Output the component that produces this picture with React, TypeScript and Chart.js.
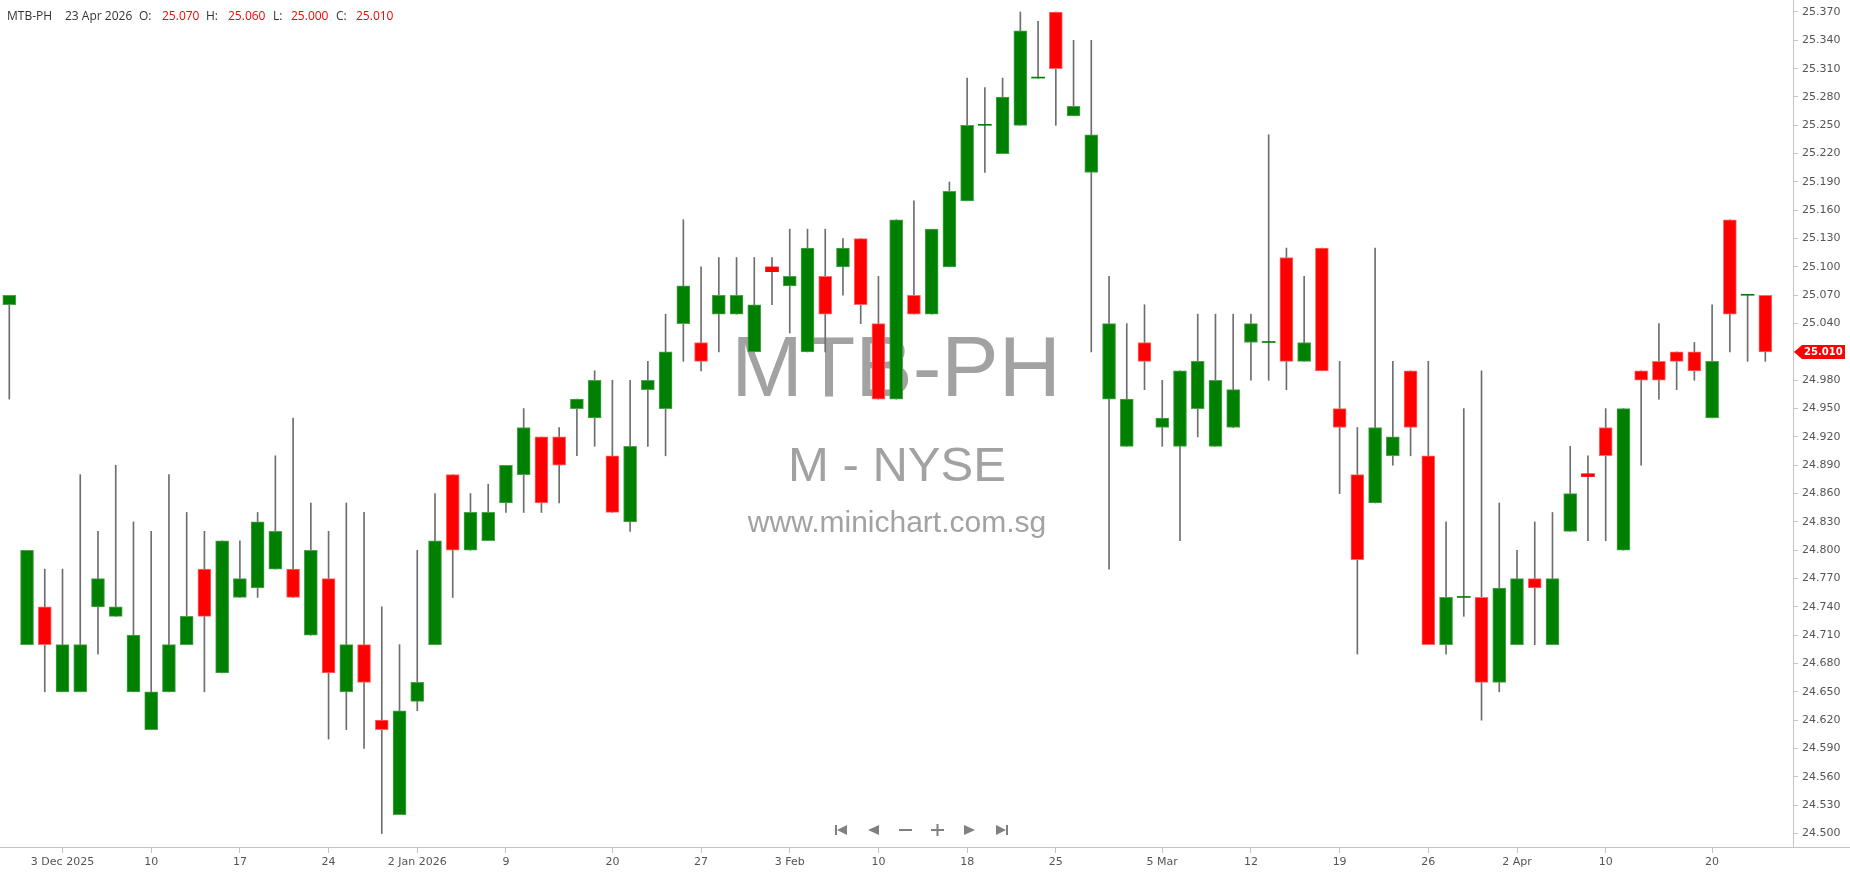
import React, { useEffect, useRef } from 'react';
import { Chart, registerables } from 'chart.js';

Chart.register(...registerables);

const SYMBOL = 'MTB-PH';
const EXCHANGE_TEXT = 'M - NYSE';
const SITE_TEXT = 'www.minichart.com.sg';

const dates: string[] = [
  '2025-11-28',
  '2025-12-01', '2025-12-02', '2025-12-03', '2025-12-04', '2025-12-05',
  '2025-12-08', '2025-12-09', '2025-12-10', '2025-12-11', '2025-12-12',
  '2025-12-15', '2025-12-16', '2025-12-17', '2025-12-18', '2025-12-19',
  '2025-12-22', '2025-12-23', '2025-12-24', '2025-12-26',
  '2025-12-29', '2025-12-30', '2025-12-31',
  '2026-01-02',
  '2026-01-05', '2026-01-06', '2026-01-07', '2026-01-08', '2026-01-09',
  '2026-01-12', '2026-01-13', '2026-01-14', '2026-01-15', '2026-01-16',
  '2026-01-20', '2026-01-21', '2026-01-22', '2026-01-23',
  '2026-01-26', '2026-01-27', '2026-01-28', '2026-01-29', '2026-01-30',
  '2026-02-02', '2026-02-03', '2026-02-04', '2026-02-05', '2026-02-06',
  '2026-02-09', '2026-02-10', '2026-02-11', '2026-02-12', '2026-02-13',
  '2026-02-17', '2026-02-18', '2026-02-19', '2026-02-20',
  '2026-02-23', '2026-02-24', '2026-02-25', '2026-02-26', '2026-02-27',
  '2026-03-02', '2026-03-03', '2026-03-04', '2026-03-05', '2026-03-06',
  '2026-03-09', '2026-03-10', '2026-03-11', '2026-03-12', '2026-03-13',
  '2026-03-16', '2026-03-17', '2026-03-18', '2026-03-19', '2026-03-20',
  '2026-03-23', '2026-03-24', '2026-03-25', '2026-03-26', '2026-03-27',
  '2026-03-30', '2026-03-31',
  '2026-04-01', '2026-04-02',
  '2026-04-06', '2026-04-07', '2026-04-08', '2026-04-09', '2026-04-10',
  '2026-04-13', '2026-04-14', '2026-04-15', '2026-04-16', '2026-04-17',
  '2026-04-20', '2026-04-21', '2026-04-22', '2026-04-23',
];

const opens: number[] = [
  25.06,
  24.70, 24.74, 24.65, 24.65, 24.74,
  24.73, 24.65, 24.61, 24.65, 24.70,
  24.78, 24.67, 24.75, 24.76, 24.78,
  24.78, 24.71, 24.77, 24.65,
  24.70, 24.62, 24.52,
  24.64,
  24.70, 24.88, 24.80, 24.81, 24.85,
  24.88, 24.92, 24.92, 24.95, 24.94,
  24.90, 24.83, 24.97, 24.95,
  25.04, 25.02, 25.05, 25.05, 25.01,
  25.10, 25.08, 25.01, 25.09, 25.10,
  25.13, 25.04, 24.96, 25.07, 25.05,
  25.10, 25.17, 25.25, 25.22,
  25.25, 25.30, 25.37, 25.26, 25.20,
  24.96, 24.91, 25.02, 24.93, 24.91,
  24.95, 24.91, 24.93, 25.02, 25.02,
  25.11, 25.00, 25.12, 24.95, 24.88,
  24.85, 24.90, 24.99, 24.90, 24.70,
  24.75, 24.75,
  24.66, 24.70,
  24.77, 24.70, 24.82, 24.881, 24.93,
  24.80, 24.99, 25.00, 25.01, 25.01,
  24.94, 25.15, 25.07, 25.07,
];

const highs: number[] = [
  25.07,
  24.80, 24.78, 24.78, 24.88, 24.82,
  24.89, 24.83, 24.82, 24.88, 24.84,
  24.82, 24.81, 24.81, 24.84, 24.90,
  24.94, 24.85, 24.82, 24.85,
  24.84, 24.74, 24.70,
  24.80,
  24.86, 24.88, 24.86, 24.87, 24.89,
  24.95, 24.92, 24.93, 24.96, 24.99,
  24.98, 24.98, 25.00, 25.05,
  25.15, 25.10, 25.11, 25.11, 25.11,
  25.11, 25.14, 25.14, 25.14, 25.13,
  25.13, 25.09, 25.15, 25.17, 25.14,
  25.19, 25.30, 25.29, 25.30,
  25.37, 25.36, 25.37, 25.34, 25.34,
  25.09, 25.04, 25.06, 24.98, 24.99,
  25.05, 25.05, 25.05, 25.05, 25.24,
  25.12, 25.09, 25.12, 25.00, 24.93,
  25.12, 25.00, 24.99, 25.00, 24.83,
  24.95, 24.99,
  24.85, 24.80,
  24.83, 24.84, 24.91, 24.90, 24.95,
  24.95, 24.99, 25.04, 25.01, 25.02,
  25.06, 25.15, 25.07, 25.06,
];

const lows: number[] = [
  24.96,
  24.70, 24.65, 24.65, 24.65, 24.69,
  24.73, 24.65, 24.61, 24.65, 24.70,
  24.65, 24.67, 24.75, 24.75, 24.78,
  24.75, 24.71, 24.60, 24.61,
  24.59, 24.50, 24.52,
  24.63,
  24.70, 24.75, 24.80, 24.81, 24.84,
  24.84, 24.84, 24.85, 24.90, 24.91,
  24.84, 24.82, 24.91, 24.90,
  25.00, 24.99, 25.01, 25.05, 25.01,
  25.06, 25.03, 25.01, 25.01, 25.07,
  25.04, 24.96, 24.96, 25.05, 25.05,
  25.10, 25.17, 25.20, 25.22,
  25.25, 25.30, 25.25, 25.26, 25.01,
  24.78, 24.91, 24.97, 24.91, 24.81,
  24.92, 24.91, 24.93, 24.98, 24.98,
  24.97, 25.00, 24.99, 24.86, 24.69,
  24.85, 24.89, 24.90, 24.70, 24.69,
  24.73, 24.62,
  24.65, 24.70,
  24.70, 24.70, 24.82, 24.81, 24.81,
  24.80, 24.89, 24.96, 24.97, 24.98,
  24.94, 25.01, 25.00, 25.00,
];

const closes: number[] = [
  25.07,
  24.80, 24.70, 24.70, 24.70, 24.77,
  24.74, 24.71, 24.65, 24.70, 24.73,
  24.73, 24.81, 24.77, 24.83, 24.82,
  24.75, 24.80, 24.67, 24.70,
  24.66, 24.61, 24.63,
  24.66,
  24.81, 24.80, 24.84, 24.84, 24.89,
  24.93, 24.85, 24.89, 24.96, 24.98,
  24.84, 24.91, 24.98, 25.01,
  25.08, 25.00, 25.07, 25.07, 25.06,
  25.095, 25.09, 25.12, 25.05, 25.12,
  25.06, 24.96, 25.15, 25.05, 25.14,
  25.18, 25.25, 25.25, 25.28,
  25.35, 25.30, 25.31, 25.27, 25.24,
  25.04, 24.96, 25.00, 24.94, 24.99,
  25.00, 24.98, 24.97, 25.04, 25.02,
  25.00, 25.02, 24.99, 24.93, 24.79,
  24.93, 24.92, 24.93, 24.70, 24.75,
  24.75, 24.66,
  24.76, 24.77,
  24.76, 24.77, 24.86, 24.878, 24.90,
  24.95, 24.98, 24.98, 25.00, 24.99,
  25.00, 25.05, 25.07, 25.01,
];

const tickDates: string[] = [
  '2025-12-03', '2025-12-10', '2025-12-17', '2025-12-24', '2026-01-02',
  '2026-01-09', '2026-01-20', '2026-01-27', '2026-02-03', '2026-02-10',
  '2026-02-18', '2026-02-25', '2026-03-05', '2026-03-12', '2026-03-19',
  '2026-03-26', '2026-04-02', '2026-04-10', '2026-04-20',
];
const tickLabels: string[] = [
  '3 Dec 2025', '10', '17', '24', '2 Jan 2026',
  '9', '20', '27', '3 Feb', '10',
  '18', '25', '5 Mar', '12', '19',
  '26', '2 Apr', '10', '20',
];

const priceTicks: number[] = [
  24.50, 24.53, 24.56, 24.59, 24.62, 24.65, 24.68, 24.71, 24.74, 24.77,
  24.80, 24.83, 24.86, 24.89, 24.92, 24.95, 24.98, 25.01, 25.04, 25.07,
  25.10, 25.13, 25.16, 25.19, 25.22, 25.25, 25.28, 25.31, 25.34, 25.37,
];

const MONTHS = ['Jan', 'Feb', 'Mar', 'Apr', 'May', 'Jun', 'Jul', 'Aug', 'Sep', 'Oct', 'Nov', 'Dec'];
function fmtDate(s: string): string {
  const [y, m, d] = s.split('-').map(Number);
  return `${d} ${MONTHS[m - 1]} ${y}`;
}

const GREEN = '#008000';
const RED = '#ff0000';
const GREEN_EDGE = '#4ca34c';
const RED_EDGE = '#ff6a6a';

export default function App() {
  const ref = useRef<HTMLCanvasElement | null>(null);

  useEffect(() => {
    const canvas = ref.current;
    if (!canvas) return;
    const n = dates.length;
    const idx = dates.map((_, i) => i);
    const tickIdx = tickDates.map((d) => dates.indexOf(d));
    const up = idx.map((i) => closes[i] >= opens[i]);
    const bodyColors = idx.map((i) => (up[i] ? GREEN : RED));
    const edgeColors = idx.map((i) => (up[i] ? GREEN_EDGE : RED_EDGE));
    const edgeWidths = idx.map((i) => (Math.abs(closes[i] - opens[i]) > 0.006 ? 1 : 0));

    const overlay = {
      id: 'overlay',
      beforeDatasetsDraw(chart: any) {
        const ctx = chart.ctx as CanvasRenderingContext2D;
        ctx.save();
        ctx.fillStyle = '#a2a2a2';
        ctx.textAlign = 'center';
        ctx.textBaseline = 'alphabetic';
        ctx.font = '86px "Liberation Sans", Arial, sans-serif';
        ctx.fillText(SYMBOL, 896, 396);
        ctx.font = '49px "Liberation Sans", Arial, sans-serif';
        ctx.fillText(EXCHANGE_TEXT, 897, 481);
        ctx.font = '30px "Liberation Sans", Arial, sans-serif';
        ctx.fillText(SITE_TEXT, 897, 532);
        ctx.restore();
      },
      afterDraw(chart: any) {
        const ctx = chart.ctx as CanvasRenderingContext2D;
        const area = chart.chartArea;
        const W = chart.width;
        ctx.save();
        // bottom axis line across the full width
        ctx.strokeStyle = '#c4c4c4';
        ctx.lineWidth = 1.2;
        ctx.beginPath();
        ctx.moveTo(0, area.bottom + 0.5);
        ctx.lineTo(W, area.bottom + 0.5);
        ctx.stroke();

        // header legend
        const last = n - 1;
        ctx.font = '12px "Open Sans", sans-serif';
        ctx.textBaseline = 'middle';
        ctx.textAlign = 'left';
        const y0 = 17;
        const dark = '#333333';
        const parts: [string, number, string][] = [
          [SYMBOL, 7, dark],
          [fmtDate(dates[last]), 65, dark],
          ['O:', 139, dark],
          [opens[last].toFixed(3), 162, RED],
          ['H:', 206, dark],
          [highs[last].toFixed(3), 228, RED],
          ['L:', 273, dark],
          [lows[last].toFixed(3), 291, RED],
          ['C:', 336, dark],
          [closes[last].toFixed(3), 356, RED],
        ];
        parts.forEach(([t, x, c]) => {
          ctx.fillStyle = c;
          ctx.fillText(t, x, y0);
        });

        // last price marker
        const py = chart.scales.y.getPixelForValue(closes[last]);
        ctx.fillStyle = RED;
        ctx.beginPath();
        ctx.moveTo(area.right + 1, py);
        ctx.lineTo(area.right + 9, py - 7);
        ctx.lineTo(W - 5, py - 7);
        ctx.lineTo(W - 5, py + 7);
        ctx.lineTo(area.right + 9, py + 7);
        ctx.closePath();
        ctx.fill();
        ctx.fillStyle = '#ffffff';
        ctx.font = 'bold 10px "DejaVu Sans", sans-serif';
        ctx.textAlign = 'left';
        ctx.fillText(closes[last].toFixed(3), area.right + 11, py + 0.5);

        // navigation buttons
        const cy = 830;
        ctx.fillStyle = '#808080';
        const triL = (tip: number, base: number) => {
          ctx.beginPath();
          ctx.moveTo(tip, cy);
          ctx.lineTo(base, cy - 5);
          ctx.lineTo(base, cy + 5);
          ctx.closePath();
          ctx.fill();
        };
        ctx.fillRect(835, cy - 5, 2, 10);
        triL(837, 847);
        triL(868, 879);
        ctx.fillRect(899, cy - 1, 13, 2);
        ctx.fillRect(931, cy - 1, 13, 2);
        ctx.fillRect(936.5, cy - 6, 2, 12);
        triL(975, 964);
        triL(1006, 996);
        ctx.fillRect(1006, cy - 5, 2, 10);
        ctx.restore();
      },
    };

    const chart = new Chart(canvas, {
      type: 'bar',
      data: {
        datasets: [
          {
            label: 'body',
            data: idx.map((i) => ({ x: i, y: [opens[i], closes[i]] })) as any,
            backgroundColor: bodyColors,
            borderColor: edgeColors,
            borderWidth: edgeWidths,
            borderSkipped: false,
            barThickness: 13,
            minBarLength: 1,
            grouped: false,
            order: 1,
          } as any,
          {
            label: 'wick',
            data: idx.map((i) => ({ x: i, y: [lows[i], highs[i]] })) as any,
            backgroundColor: '#6e6e6e',
            borderWidth: 0,
            barThickness: 1,
            grouped: false,
            order: 2,
          } as any,
        ],
      },
      options: {
        responsive: false,
        animation: false,
        devicePixelRatio: 1,
        layout: { padding: 0 },
        plugins: {
          legend: { display: false },
          tooltip: { enabled: false },
        },
        scales: {
          x: {
            type: 'linear',
            position: 'bottom',
            min: -0.524,
            max: 100.56,
            offset: false,
            afterBuildTicks: (axis: any) => {
              axis.ticks = tickIdx.map((v) => ({ value: v }));
            },
            afterFit: (axis: any) => {
              axis.height = 27;
              axis.paddingLeft = 0;
              axis.paddingRight = 0;
            },
            ticks: {
              autoSkip: false,
              maxRotation: 0,
              padding: 3,
              color: '#555555',
              font: { family: '"DejaVu Sans", sans-serif', size: 11 },
              callback: (v: any) => {
                const k = tickIdx.indexOf(Number(v));
                return k >= 0 ? tickLabels[k] : '';
              },
            },
            grid: {
              offset: false,
              drawOnChartArea: false,
              drawTicks: true,
              tickLength: 6,
              color: '#c4c4c4',
            },
            border: { display: false },
          },
          y: {
            type: 'linear',
            position: 'right',
            min: 24.4857,
            max: 25.3827,
            afterBuildTicks: (axis: any) => {
              axis.ticks = priceTicks.map((v) => ({ value: v }));
            },
            afterFit: (axis: any) => {
              axis.width = 57;
              axis.paddingTop = 0;
              axis.paddingBottom = 0;
            },
            ticks: {
              padding: 4,
              color: '#555555',
              font: { family: '"DejaVu Sans", sans-serif', size: 11 },
              callback: (v: any) => Number(v).toFixed(3),
            },
            grid: {
              offset: false,
              drawOnChartArea: false,
              drawTicks: true,
              tickLength: 5,
              color: '#c4c4c4',
            },
            border: { display: true, color: '#c4c4c4', width: 1 },
          },
        },
      } as any,
      plugins: [overlay],
    });

    return () => chart.destroy();
  }, []);

  return (
    <div style={{ position: 'fixed', left: 0, top: 0, width: 1850, height: 874, background: '#ffffff' }}>
      <canvas ref={ref} width={1850} height={874} style={{ display: 'block' }} />
    </div>
  );
}
